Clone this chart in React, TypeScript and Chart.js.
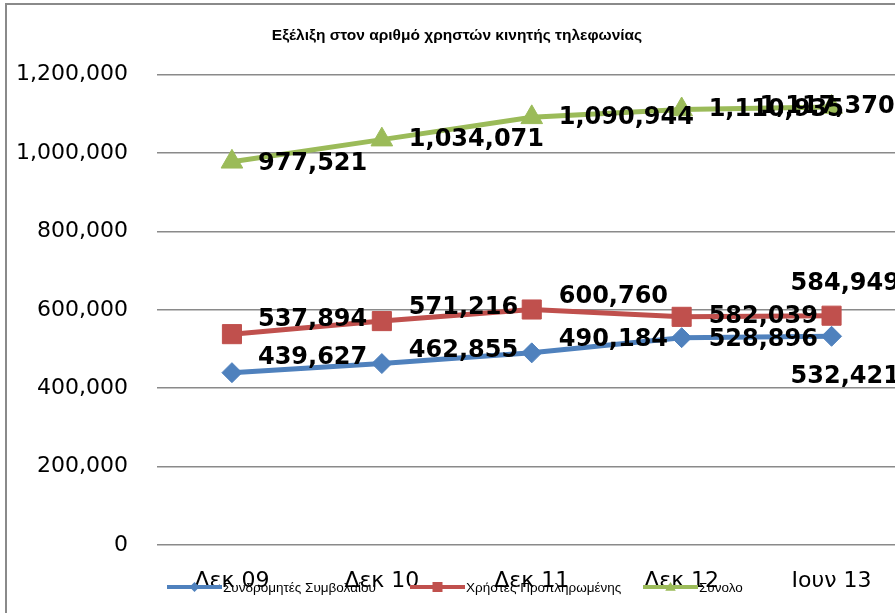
import { useEffect, useRef } from "react";
import { Chart, registerables } from "chart.js";

Chart.register(...registerables);

const chartTitle = "Εξέλιξη στον αριθμό χρηστών κινητής τηλεφωνίας";
const categories = ["Δεκ 09", "Δεκ 10", "Δεκ 11", "Δεκ 12", "Ιουν 13"];
const seriesNames = ["Συνδρομητές Συμβολαίου", "Χρήστες Προπληρωμένης", "Σύνολο"];
const contractValues = [439627, 462855, 490184, 528896, 532421];
const prepaidValues = [537894, 571216, 600760, 582039, 584949];
const totalValues = [977521, 1034071, 1090944, 1110935, 1117370];
const yMin = 0;
const yMax = 1200000;
const yStep = 200000;

// styles
const seriesColors = ["#4F81BD", "#C0504D", "#9BBB59"];
const pointStyles = ["rectRot", "rect", "triangle"] as const;
const pointRadii = [10, 13.5, 12.5];
// label offsets from each point [dx, dy]
const labelOffsets: number[][][] = [
  [[26, -15], [27, -13], [27, -13], [27, 2], [-41, 40]],
  [[26, -14], [27, -13], [27, -13], [27, 0], [-41, -32]],
  [[26, 2], [27, 0], [27, 0], [27, 0], [-72, 0]],
];
const legendX = [167, 410, 643];
const legendY = 587;
const legendLineLen = 55;

const CANVAS_W = 921;
const CANVAS_H = 613;

const fmt = (v: number) => Number(v).toLocaleString("en-US");

const frameBorderPlugin = {
  id: "frameBorder",
  beforeDraw(chart: any) {
    const ctx = chart.ctx;
    ctx.save();
    ctx.strokeStyle = "#8a8a8a";
    ctx.lineWidth = 2;
    ctx.beginPath();
    ctx.moveTo(6, chart.height);
    ctx.lineTo(6, 4);
    ctx.lineTo(chart.width, 4);
    ctx.stroke();
    ctx.restore();
  },
};

const valueLabelsPlugin = {
  id: "valueLabels",
  afterDatasetsDraw(chart: any) {
    const ctx = chart.ctx;
    ctx.save();
    ctx.font = 'bold 24px "DejaVu Sans"';
    ctx.fillStyle = "#000";
    ctx.textBaseline = "middle";
    ctx.textAlign = "left";
    chart.data.datasets.forEach((ds: any, di: number) => {
      const meta = chart.getDatasetMeta(di);
      meta.data.forEach((pt: any, i: number) => {
        const [dx, dy] = labelOffsets[di][i];
        ctx.fillText(fmt(ds.data[i]), pt.x + dx, pt.y + dy);
      });
    });
    ctx.restore();
  },
};

function drawMarker(ctx: CanvasRenderingContext2D, style: string, x: number, y: number, r: number) {
  ctx.beginPath();
  if (style === "rectRot") {
    ctx.moveTo(x - r, y);
    ctx.lineTo(x, y - r);
    ctx.lineTo(x + r, y);
    ctx.lineTo(x, y + r);
  } else if (style === "rect") {
    ctx.rect(x - r, y - r, r * 2, r * 2);
  } else {
    ctx.moveTo(x, y - r);
    ctx.lineTo(x + r * 1.05, y + r * 0.75);
    ctx.lineTo(x - r * 1.05, y + r * 0.75);
  }
  ctx.closePath();
  ctx.fill();
}

const customLegendPlugin = {
  id: "customLegend",
  afterDraw(chart: any) {
    const ctx = chart.ctx;
    ctx.save();
    ctx.font = '13.5px "Liberation Sans", Arial';
    ctx.textBaseline = "middle";
    ctx.textAlign = "left";
    chart.data.datasets.forEach((ds: any, di: number) => {
      const x = legendX[di];
      ctx.strokeStyle = seriesColors[di];
      ctx.fillStyle = seriesColors[di];
      ctx.lineWidth = 4;
      ctx.beginPath();
      ctx.moveTo(x, legendY);
      ctx.lineTo(x + legendLineLen, legendY);
      ctx.stroke();
      drawMarker(ctx, pointStyles[di], x + legendLineLen / 2, legendY, 5);
      ctx.fillStyle = "#000";
      ctx.fillText(ds.label, x + legendLineLen + 1, legendY + 1);
    });
    ctx.restore();
  },
};

export default function App() {
  const canvasRef = useRef<HTMLCanvasElement | null>(null);

  useEffect(() => {
    if (!canvasRef.current) return;
    const seriesValues = [contractValues, prepaidValues, totalValues];
    const chart = new Chart(canvasRef.current, {
      type: "line",
      data: {
        labels: categories,
        datasets: seriesValues.map((vals, i) => ({
          label: seriesNames[i],
          data: vals,
          borderColor: seriesColors[i],
          backgroundColor: seriesColors[i],
          pointBackgroundColor: seriesColors[i],
          pointBorderColor: seriesColors[i],
          borderWidth: 5,
          pointStyle: pointStyles[i],
          pointRadius: pointRadii[i],
          pointBorderWidth: 1,
          tension: 0,
          fill: false,
        })),
      },
      options: {
        responsive: false,
        animation: false,
        layout: { padding: { left: 0, right: 7, top: 0, bottom: 0 } },
        plugins: {
          legend: { display: false },
          tooltip: { enabled: false },
          title: {
            display: true,
            text: chartTitle,
            color: "#000",
            font: { family: '"Liberation Sans", Arial', size: 15.5, weight: "bold" },
            padding: { top: 26, bottom: 30 },
          },
        },
        scales: {
          x: {
            type: "category",
            offset: true,
            grid: { display: false },
            border: { display: false },
            ticks: {
              color: "#000",
              font: { family: '"DejaVu Sans"', size: 22 },
              padding: 15,
              maxRotation: 0,
              autoSkip: false,
            },
            afterFit(s: any) {
              s.height = 68;
            },
          },
          y: {
            min: yMin,
            max: yMax,
            grid: { color: "#8a8a8a", lineWidth: 1.5, drawTicks: false },
            border: { display: false },
            ticks: {
              stepSize: yStep,
              color: "#000",
              font: { family: '"DejaVu Sans"', size: 22 },
              padding: 29,
              callback: (v: any) => fmt(Number(v)),
            },
            afterFit(s: any) {
              s.width = 157;
            },
          },
        },
      },
      plugins: [frameBorderPlugin, valueLabelsPlugin, customLegendPlugin],
    });
    return () => chart.destroy();
  }, []);

  return (
    <div
      style={{
        position: "fixed",
        left: 0,
        top: 0,
        width: 895,
        height: 613,
        overflow: "hidden",
        background: "#fff",
      }}
    >
      <div style={{ position: "absolute", left: 0, top: 0, width: CANVAS_W, height: CANVAS_H }}>
        <canvas
          ref={canvasRef}
          width={CANVAS_W}
          height={CANVAS_H}
          style={{ display: "block", width: CANVAS_W, height: CANVAS_H }}
        />
      </div>
    </div>
  );
}
